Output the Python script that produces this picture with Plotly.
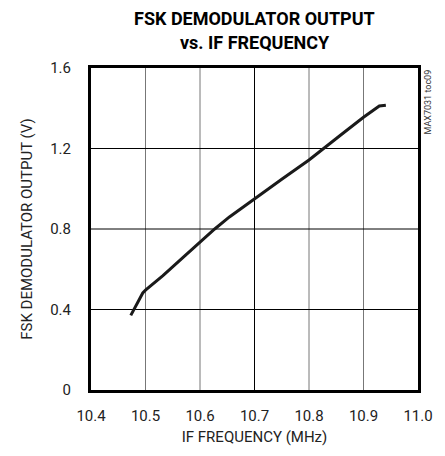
import plotly.graph_objects as go

# IF frequency (MHz) and FSK demodulator output (V)
freq_mhz = [10.473, 10.485, 10.495, 10.500, 10.532, 10.568, 10.600, 10.627, 10.654,
            10.700, 10.750, 10.800, 10.826, 10.860, 10.900, 10.929, 10.941]
output_v = [0.371, 0.428, 0.482, 0.496, 0.568, 0.657, 0.737, 0.800, 0.860,
            0.951, 1.047, 1.143, 1.200, 1.271, 1.355, 1.411, 1.415]

x_ticks = [10.4, 10.5, 10.6, 10.7, 10.8, 10.9, 11.0]
x_tick_text = ["10.4", "10.5", "10.6", "10.7", "10.8", "10.9", "11.0"]
y_ticks = [0, 0.4, 0.8, 1.2, 1.6]
y_tick_text = ["0", "0.4", "0.8", "1.2", "1.6"]

FONT = "Roboto, Arial, sans-serif"

fig = go.Figure()

# vertical grid lines (10.7 drawn darker)
for xv in x_ticks[1:-1]:
    fig.add_shape(type="line", xref="x", yref="paper", x0=xv, x1=xv, y0=0, y1=1,
                  line=dict(color="#000000" if abs(xv - 10.7) < 1e-9 else "#777777", width=1),
                  layer="below")
# horizontal grid lines
for yv in y_ticks[1:-1]:
    fig.add_shape(type="line", xref="paper", yref="y", x0=0, x1=1, y0=yv, y1=yv,
                  line=dict(color="#000000", width=1), layer="below")

fig.add_trace(go.Scatter(x=freq_mhz, y=output_v, mode="lines",
                         line=dict(color="#1a1a1a", width=3),
                         showlegend=False, hoverinfo="skip"))

fig.update_xaxes(range=[10.4, 11.0], tickvals=x_ticks, ticktext=x_tick_text,
                 showgrid=False, zeroline=False, showline=True, mirror=True,
                 linecolor="black", linewidth=3, ticks="", ticklabelstandoff=10,
                 tickfont=dict(family=FONT, size=15, color="#222"),
                 title=dict(text="IF FREQUENCY (MHz)", standoff=8,
                            font=dict(family=FONT, size=15, color="#222")))
fig.update_yaxes(range=[0, 1.6], tickvals=y_ticks, ticktext=y_tick_text,
                 showgrid=False, zeroline=False, showline=True, mirror=True,
                 linecolor="black", linewidth=3, ticks="", ticklabelstandoff=14,
                 tickfont=dict(family=FONT, size=15, color="#222"),
                 title=dict(text="FSK DEMODULATOR OUTPUT (V)", standoff=14,
                            font=dict(family=FONT, size=15, color="#222")))

fig.add_annotation(text="<b>FSK DEMODULATOR OUTPUT</b>", xref="paper", yref="paper",
                   x=0.5, y=1, yshift=50, showarrow=False, xanchor="center", yanchor="middle",
                   font=dict(family=FONT, size=18, color="black"))
fig.add_annotation(text="<b>vs. IF FREQUENCY</b>", xref="paper", yref="paper",
                   x=0.5, y=1, yshift=26, showarrow=False, xanchor="center", yanchor="middle",
                   font=dict(family=FONT, size=18, color="black"))
fig.add_annotation(text="MAX7031 toc09", xref="paper", yref="paper",
                   x=1, y=1, xshift=9, showarrow=False, textangle=-90,
                   xanchor="center", yanchor="top",
                   font=dict(family=FONT, size=9, color="#333"))

fig.update_layout(width=445, height=456,
                  margin=dict(l=91, r=26, t=68, b=60),
                  paper_bgcolor="white", plot_bgcolor="white")

fig.write_html("out.html")
